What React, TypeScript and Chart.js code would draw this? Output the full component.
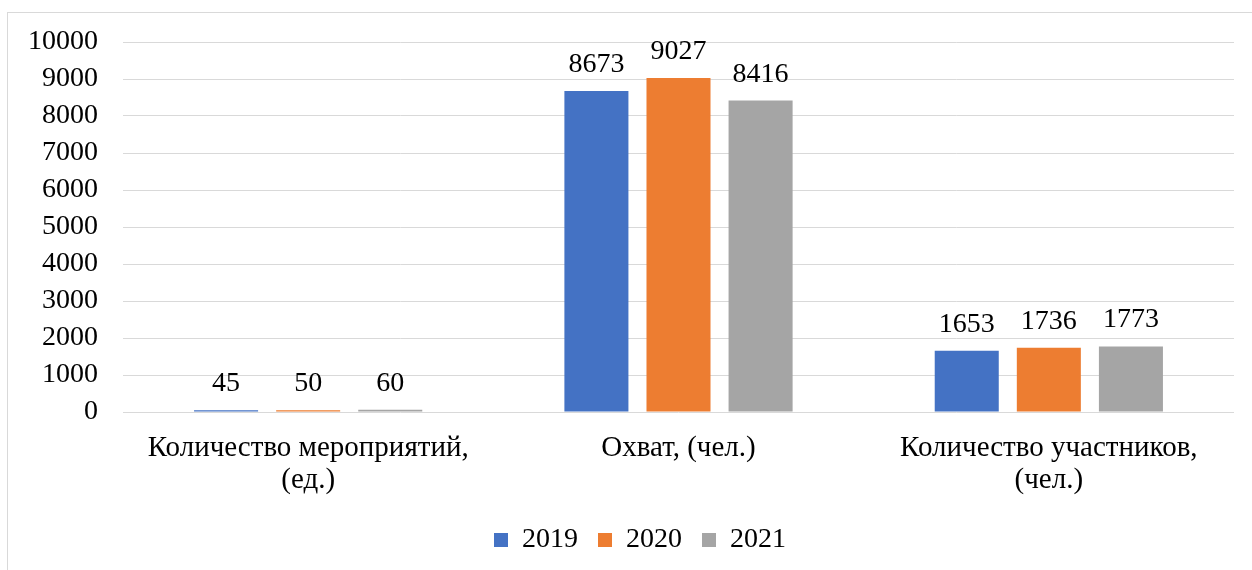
import React, { useEffect, useRef } from "react";
import { Chart, registerables } from "chart.js";

Chart.register(...registerables);

const categories: string[][] = [
  ["Количество мероприятий,", "(ед.)"],
  ["Охват, (чел.)"],
  ["Количество участников,", "(чел.)"],
];
const seriesNames = ["2019", "2020", "2021"];
const values2019 = [45, 8673, 1653];
const values2020 = [50, 9027, 1736];
const values2021 = [60, 8416, 1773];
const colors = ["#4472C4", "#ED7D31", "#A5A5A5"];

const FONT = "'Liberation Serif', 'Times New Roman', serif";
const FS = 28;

const dataLabels = {
  id: "dataLabels",
  afterDatasetsDraw(chart: any) {
    const ctx = chart.ctx;
    ctx.save();
    ctx.font = `${FS}px ${FONT}`;
    ctx.fillStyle = "#000";
    ctx.textAlign = "center";
    ctx.textBaseline = "alphabetic";
    chart.data.datasets.forEach((ds: any, i: number) => {
      const meta = chart.getDatasetMeta(i);
      meta.data.forEach((el: any, j: number) => {
        ctx.fillText(String(ds.data[j]), el.x, el.y - 19);
      });
    });
    ctx.restore();
  },
};

export default function App() {
  const ref = useRef<HTMLCanvasElement>(null);
  useEffect(() => {
    if (!ref.current) return;
    const chart = new Chart(ref.current, {
      type: "bar",
      data: {
        labels: categories,
        datasets: [values2019, values2020, values2021].map((d, i) => ({
          label: seriesNames[i],
          data: d,
          backgroundColor: colors[i],
          borderWidth: 0,
          categoryPercentage: 0.665,
          barPercentage: 0.78,
        })),
      },
      options: {
        animation: false,
        responsive: true,
        maintainAspectRatio: false,
        layout: { padding: { left: 28, top: 42, right: 0, bottom: 6 } },
        plugins: {
          tooltip: { enabled: false },
          legend: {
            position: "bottom",
            labels: {
              boxWidth: 14,
              boxHeight: 14,
              padding: 20,
              color: "#000",
              font: { family: FONT, size: FS },
            },
          },
        },
        scales: {
          x: {
            grid: { display: false },
            border: { display: false },
            ticks: {
              color: "#000",
              font: { family: FONT, size: 29, lineHeight: 1.12 },
              padding: 12,
              maxRotation: 0,
              autoSkip: false,
            },
            afterFit: (s: any) => {
              s.height = 94;
            },
          },
          y: {
            min: 0,
            max: 10000,
            border: { display: false },
            grid: { color: "#D9D9D9", lineWidth: 1, drawTicks: false },
            ticks: {
              stepSize: 1000,
              autoSkip: false,
              padding: 25,
              color: "#000",
              font: { family: FONT, size: FS },
              callback: (v: any) => String(v),
            },
            afterFit: (s: any) => {
              s.width = 95;
            },
          },
          y2: {
            position: "right",
            display: true,
            min: 0,
            max: 10000,
            border: { display: false },
            grid: { display: false, drawOnChartArea: false, drawTicks: false },
            ticks: { display: false },
            afterFit: (s: any) => {
              s.width = 18;
            },
          },
        },
      },
      plugins: [dataLabels],
    });
    return () => chart.destroy();
  }, []);
  return (
    <div style={{ position: "absolute", left: 0, top: 0, width: 1252, height: 570, background: "#fff" }}>
      <div
        style={{
          position: "absolute",
          left: 7,
          top: 12,
          width: 1260,
          height: 570,
          borderLeft: "1px solid #D9D9D9",
          borderTop: "1px solid #D9D9D9",
        }}
      />
      <canvas ref={ref} style={{ position: "absolute", left: 0, top: 0 }} />
    </div>
  );
}
